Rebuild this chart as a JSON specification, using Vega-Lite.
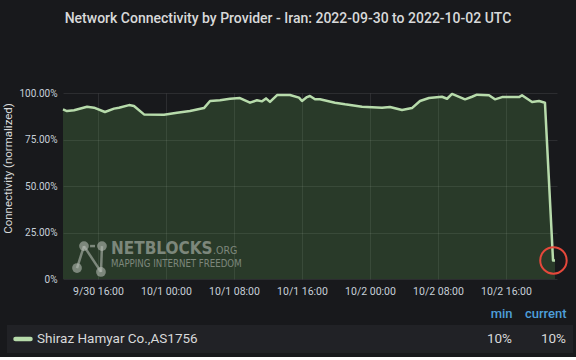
{
  "$schema": "https://vega.github.io/schema/vega-lite/v6.json",
  "background": "#18191c",
  "padding": {"left": 2, "top": 12, "right": 5, "bottom": 4},
  "title": {"text": "Network Connectivity by Provider - Iran: 2022-09-30 to 2022-10-02 UTC", "fontSize": 14, "font": "Roboto", "fontWeight": 500, "color": "#d8d9da", "anchor": "middle", "offset": 62},
  "config": {"view": {"stroke": null}, "font": "Roboto"},
  "vconcat": [
    {
      "width": 550,
      "height": 186,
      "layer": [
        {
          "data": {"name": "series", "values": [
            {"t": "2022-09-30T11:53:00Z", "v": 0.912},
            {"t": "2022-09-30T12:21:00Z", "v": 0.903},
            {"t": "2022-09-30T13:11:00Z", "v": 0.907},
            {"t": "2022-09-30T14:43:00Z", "v": 0.926},
            {"t": "2022-09-30T15:32:00Z", "v": 0.921},
            {"t": "2022-09-30T16:49:00Z", "v": 0.898},
            {"t": "2022-09-30T17:53:00Z", "v": 0.916},
            {"t": "2022-09-30T18:28:00Z", "v": 0.921},
            {"t": "2022-09-30T19:39:00Z", "v": 0.935},
            {"t": "2022-09-30T20:14:00Z", "v": 0.930},
            {"t": "2022-09-30T21:25:00Z", "v": 0.885},
            {"t": "2022-09-30T23:46:00Z", "v": 0.883},
            {"t": "2022-10-01T01:18:00Z", "v": 0.894},
            {"t": "2022-10-01T02:49:00Z", "v": 0.903},
            {"t": "2022-10-01T04:28:00Z", "v": 0.919},
            {"t": "2022-10-01T05:11:00Z", "v": 0.957},
            {"t": "2022-10-01T06:21:00Z", "v": 0.961},
            {"t": "2022-10-01T07:32:00Z", "v": 0.969},
            {"t": "2022-10-01T08:42:00Z", "v": 0.973},
            {"t": "2022-10-01T09:53:00Z", "v": 0.948},
            {"t": "2022-10-01T10:42:00Z", "v": 0.961},
            {"t": "2022-10-01T11:18:00Z", "v": 0.955},
            {"t": "2022-10-01T11:46:00Z", "v": 0.971},
            {"t": "2022-10-01T12:14:00Z", "v": 0.952},
            {"t": "2022-10-01T13:04:00Z", "v": 0.989},
            {"t": "2022-10-01T14:35:00Z", "v": 0.989},
            {"t": "2022-10-01T15:39:00Z", "v": 0.975},
            {"t": "2022-10-01T16:00:00Z", "v": 0.957},
            {"t": "2022-10-01T16:35:00Z", "v": 0.978},
            {"t": "2022-10-01T16:56:00Z", "v": 0.984},
            {"t": "2022-10-01T17:32:00Z", "v": 0.966},
            {"t": "2022-10-01T18:07:00Z", "v": 0.966},
            {"t": "2022-10-01T19:53:00Z", "v": 0.948},
            {"t": "2022-10-01T21:04:00Z", "v": 0.939},
            {"t": "2022-10-01T23:04:00Z", "v": 0.926},
            {"t": "2022-10-02T01:25:00Z", "v": 0.921},
            {"t": "2022-10-02T02:21:00Z", "v": 0.925},
            {"t": "2022-10-02T03:46:00Z", "v": 0.909},
            {"t": "2022-10-02T04:56:00Z", "v": 0.919},
            {"t": "2022-10-02T05:53:00Z", "v": 0.957},
            {"t": "2022-10-02T06:56:00Z", "v": 0.973},
            {"t": "2022-10-02T08:28:00Z", "v": 0.980},
            {"t": "2022-10-02T09:04:00Z", "v": 0.969},
            {"t": "2022-10-02T09:39:00Z", "v": 0.995},
            {"t": "2022-10-02T11:11:00Z", "v": 0.966},
            {"t": "2022-10-02T12:00:00Z", "v": 0.980},
            {"t": "2022-10-02T12:35:00Z", "v": 0.991},
            {"t": "2022-10-02T14:00:00Z", "v": 0.988},
            {"t": "2022-10-02T14:42:00Z", "v": 0.966},
            {"t": "2022-10-02T15:32:00Z", "v": 0.978},
            {"t": "2022-10-02T17:32:00Z", "v": 0.978},
            {"t": "2022-10-02T17:53:00Z", "v": 0.988},
            {"t": "2022-10-02T19:04:00Z", "v": 0.952},
            {"t": "2022-10-02T19:53:00Z", "v": 0.957},
            {"t": "2022-10-02T20:35:00Z", "v": 0.948},
            {"t": "2022-10-02T21:32:00Z", "v": 0.100},
            {"t": "2022-10-02T21:46:00Z", "v": 0.100}
          ]},
          "mark": {"type": "area", "color": "#6fbf5f", "fillOpacity": 0.2},
          "encoding": {
            "x": {"field": "t", "type": "temporal",
              "scale": {"type": "utc", "range": [56, 550], "domain": [{"year": 2022, "month": 9, "date": 30, "hours": 11, "minutes": 53, "utc": true}, {"year": 2022, "month": 10, "date": 2, "hours": 22, "utc": true}]},
              "axis": {"title": null, "format": "%-m/%-d %H:%M", "domain": false, "ticks": false, "labelFontSize": 10.5, "labelColor": "#c7d0d9", "labelPadding": 7, "labelFlush": false, "gridColor": "#ffffff", "gridOpacity": 0.09,
                "values": [
                  {"year": 2022, "month": 9, "date": 30, "hours": 16, "utc": true},
                  {"year": 2022, "month": 10, "date": 1, "hours": 0, "utc": true},
                  {"year": 2022, "month": 10, "date": 1, "hours": 8, "utc": true},
                  {"year": 2022, "month": 10, "date": 1, "hours": 16, "utc": true},
                  {"year": 2022, "month": 10, "date": 2, "hours": 0, "utc": true},
                  {"year": 2022, "month": 10, "date": 2, "hours": 8, "utc": true},
                  {"year": 2022, "month": 10, "date": 2, "hours": 16, "utc": true}
                ]}},
            "y": {"field": "v", "type": "quantitative",
              "scale": {"domain": [0, 1], "nice": false},
              "axis": {"offset": -56, "values": [0, 0.25, 0.5, 0.75, 1], "labelExpr": "datum.value == 0 ? '0%' : format(datum.value, '.2%')", "title": "Connectivity (normalized)", "titleFontSize": 11.5, "titleFontWeight": "normal", "titleColor": "#d8d9da", "titlePadding": 5, "titleY": 75, "labelFontSize": 10, "labelColor": "#c7d0d9", "labelPadding": 6, "domain": false, "ticks": false, "gridColor": "#ffffff", "gridOpacity": 0.09}}
          }
        },
        {
          "data": {"values": [
            {"t": "2022-09-30T14:21:00Z", "v": 0.177, "t2": "2022-09-30T13:32:00Z", "v2": 0.059},
            {"t": "2022-09-30T14:21:00Z", "v": 0.177, "t2": "2022-09-30T16:21:00Z", "v2": 0.038},
            {"t": "2022-09-30T16:28:00Z", "v": 0.177, "t2": "2022-09-30T16:21:00Z", "v2": 0.038},
            {"t": "2022-09-30T15:04:00Z", "v": 0.177, "t2": "2022-09-30T15:39:00Z", "v2": 0.177}
          ]},
          "mark": {"type": "rule", "color": "#b4bab2", "opacity": 0.6, "strokeWidth": 2.5},
          "encoding": {
            "x": {"field": "t", "type": "temporal"},
            "y": {"field": "v", "type": "quantitative"},
            "x2": {"field": "t2"},
            "y2": {"field": "v2"}
          }
        },
        {
          "data": {"values": [
            {"t": "2022-09-30T14:21:00Z", "v": 0.177},
            {"t": "2022-09-30T16:28:00Z", "v": 0.177},
            {"t": "2022-09-30T13:32:00Z", "v": 0.059},
            {"t": "2022-09-30T16:21:00Z", "v": 0.038}
          ]},
          "mark": {"type": "point", "shape": "circle", "filled": true, "size": 95, "color": "#b4bab2", "opacity": 0.6},
          "encoding": {
            "x": {"field": "t", "type": "temporal"},
            "y": {"field": "v", "type": "quantitative"}
          }
        },
        {
          "data": {"values": [{"t": "2022-09-30T17:32:00Z", "v": 0.134, "label": "NETBLOCKS"}]},
          "mark": {"type": "text", "align": "left", "baseline": "alphabetic", "font": "DejaVu Sans Condensed, Liberation Sans Narrow, Roboto", "fontWeight": "bold", "fontSize": 17, "color": "#b4bab2", "opacity": 0.6},
          "encoding": {
            "x": {"field": "t", "type": "temporal"},
            "y": {"field": "v", "type": "quantitative"},
            "text": {"field": "label"}
          }
        },
        {
          "data": {"values": [{"t": "2022-10-01T05:32:00Z", "v": 0.134, "label": ".ORG"}]},
          "mark": {"type": "text", "align": "left", "baseline": "alphabetic", "font": "DejaVu Sans Condensed, Liberation Sans Narrow, Roboto", "fontSize": 10.5, "color": "#b4bab2", "opacity": 0.6},
          "encoding": {
            "x": {"field": "t", "type": "temporal"},
            "y": {"field": "v", "type": "quantitative"},
            "text": {"field": "label"}
          }
        },
        {
          "data": {"values": [{"t": "2022-09-30T17:32:00Z", "v": 0.0645, "label": "MAPPING INTERNET FREEDOM"}]},
          "mark": {"type": "text", "align": "left", "baseline": "alphabetic", "font": "DejaVu Sans Condensed, Liberation Sans Narrow, Roboto", "fontSize": 9.6, "color": "#b4bab2", "opacity": 0.6},
          "encoding": {
            "x": {"field": "t", "type": "temporal"},
            "y": {"field": "v", "type": "quantitative"},
            "text": {"field": "label"}
          }
        },
        {
          "data": {"name": "series"},
          "mark": {"type": "line", "color": "#b7dbab", "strokeWidth": 2.5, "strokeJoin": "round"},
          "encoding": {
            "x": {"field": "t", "type": "temporal"},
            "y": {"field": "v", "type": "quantitative"}
          }
        },
        {
          "data": {"values": [{"t": "2022-10-02T21:35:00Z", "v": 0.1}]},
          "mark": {"type": "point", "shape": "circle", "filled": false, "size": 700, "stroke": "#e5483b", "strokeWidth": 2, "opacity": 1},
          "encoding": {
            "x": {"field": "t", "type": "temporal"},
            "y": {"field": "v", "type": "quantitative"}
          }
        }
      ]
    },
    {
      "width": 566,
      "height": 28,
      "view": {"fill": "#212226", "stroke": null},
      "data": {"values": [{"series": "Shiraz Hamyar Co.,AS1756", "min": "10%", "current": "10%"}]},
      "layer": [
        {
          "mark": {"type": "point", "shape": "stroke", "filled": false, "size": 225, "stroke": "#b7dbab", "strokeWidth": 4.5, "strokeCap": "round", "opacity": 1},
          "encoding": {
            "x": {"field": "series", "type": "nominal", "scale": {"type": "point", "range": [16, 16], "padding": 0}, "axis": null}
          }
        },
        {
          "mark": {"type": "text", "align": "left", "baseline": "middle", "dx": 14, "fontSize": 13.5, "color": "#d8d9da"},
          "encoding": {
            "x": {"field": "series", "type": "nominal", "scale": {"type": "point", "range": [16, 16], "padding": 0}, "axis": null},
            "text": {"field": "series"}
          }
        },
        {
          "transform": [{"fold": ["min", "current"], "as": ["col", "val"]}],
          "mark": {"type": "text", "align": "right", "baseline": "middle", "fontSize": 13.5, "color": "#d8d9da"},
          "encoding": {
            "x": {"field": "col", "type": "nominal", "scale": {"type": "point", "domain": ["min", "current"], "range": [505, 559], "padding": 0},
              "axis": {"orient": "top", "title": null, "domain": false, "ticks": false, "grid": false, "labelAngle": 0, "labelAlign": "right", "labelFontSize": 13, "labelFontWeight": 500, "labelColor": "#4e9fd9", "labelPadding": 5}},
            "text": {"field": "val"}
          }
        }
      ],
      "resolve": {"scale": {"x": "independent"}, "axis": {"x": "independent"}}
    }
  ],
  "spacing": 10
}
